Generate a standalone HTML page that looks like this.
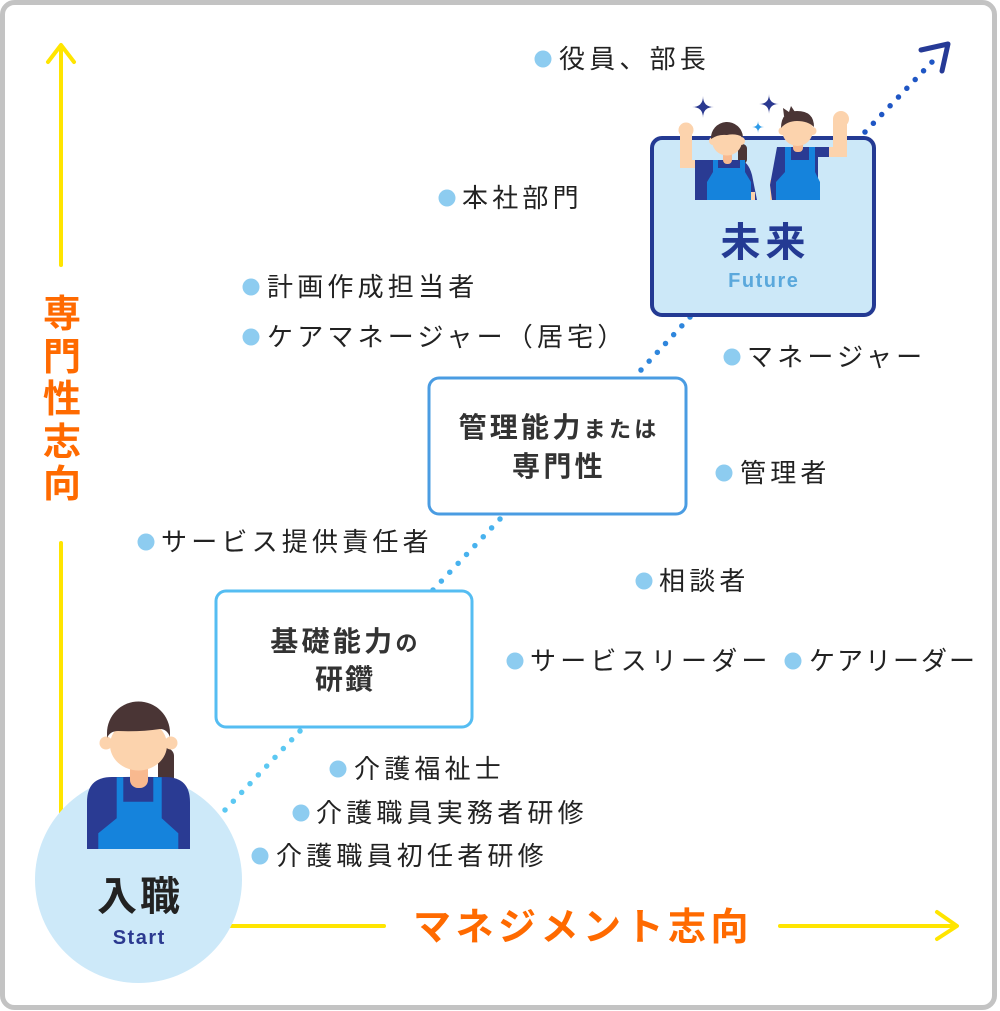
<!DOCTYPE html>
<html>
<head>
<meta charset="utf-8">
<style>
  html,body{margin:0;padding:0;background:#fff;}
  #c{position:relative;width:1000px;height:1011px;overflow:hidden;background:#fff;
     font-family:"Liberation Sans","Noto Sans CJK JP",sans-serif;}
  svg{position:absolute;left:0;top:0;}
  .t{position:absolute;font-size:26px;line-height:30px;letter-spacing:4.2px;color:#222;white-space:nowrap;
     font-family:"Liberation Sans","Noto Sans CJK JP",sans-serif;}
  .b{position:absolute;font-weight:bold;color:#333;white-space:nowrap;text-align:center;
     font-family:"Liberation Sans","Noto Sans CJK JP",sans-serif;}
</style>
</head>
<body>
<div id="c">
<svg width="1000" height="1011" viewBox="0 0 1000 1011">
  <!-- frame -->
  <rect x="2.5" y="2.5" width="992" height="1005" rx="12" fill="#fff" stroke="#c3c3c3" stroke-width="5"/>

  <!-- yellow axes -->
  <g stroke="#ffe500" stroke-width="4" fill="none" stroke-linecap="round" stroke-linejoin="round">
    <line x1="61" y1="46" x2="61" y2="265"/>
    <polyline points="48,62 61,45 74,62"/>
    <line x1="61" y1="543" x2="61" y2="840"/>
    <line x1="180" y1="926" x2="384" y2="926"/>
    <line x1="780" y1="926" x2="956" y2="926"/>
    <polyline points="937,912 957,926 937,939"/>
  </g>

  <!-- dotted connectors -->
  <g fill="none" stroke-linecap="round" stroke-width="5.5">
    <line x1="300" y1="731" x2="225" y2="810" stroke="#5cc8f2" stroke-dasharray="0 12.1"/>
    <line x1="500" y1="519" x2="433" y2="590" stroke="#48b2ee" stroke-dasharray="0 12.2"/>
    <line x1="690" y1="317" x2="641" y2="370" stroke="#2f86dc" stroke-dasharray="0 12.03"/>
    <line x1="865" y1="132" x2="932" y2="62" stroke="#1f56c4" stroke-dasharray="0 12.1"/>
  </g>
  <polyline points="921,50 948,44 942,71" fill="none" stroke="#263a96" stroke-width="5" stroke-linecap="round" stroke-linejoin="round"/>

  <!-- boxes -->
  <rect x="216" y="591" width="256" height="136" rx="10" fill="#fff" stroke="#55bdf2" stroke-width="3"/>
  <rect x="429" y="378" width="257" height="136" rx="10" fill="#fff" stroke="#4a9ce2" stroke-width="3"/>
  <rect x="652" y="138" width="222" height="177" rx="10" fill="#cce8f8" stroke="#243a93" stroke-width="4"/>

  <!-- start circle -->
  <circle cx="138.5" cy="879.5" r="103.5" fill="#cde9f9"/>

  <!-- start woman figure -->
  <rect x="158" y="748" width="16" height="39" rx="8" fill="#4a3535"/>
  <path d="M87,849 L87,802 Q87,777 112,777 L165,777 Q190,777 190,802 L190,849 Z" fill="#2a3b93"/>
  <polygon points="116.7,777.3 123.3,777.3 123.3,801.7 153.3,801.7 153.3,777.3 161.7,777.3 161.7,818.3 178.3,833.3 178.3,849 98.3,849 98.3,833.3 116.7,818.3" fill="#1583dc"/>
  <rect x="130" y="762" width="18" height="26" rx="8" fill="#f8b98f"/>
  <circle cx="106" cy="743" r="6.5" fill="#fcd3ad"/>
  <circle cx="171" cy="743" r="6.5" fill="#fcd3ad"/>
  <ellipse cx="138.5" cy="745" rx="28.5" ry="25.5" fill="#fcd3ad"/>
  <path d="M107,738 L107,733 A31.5,31.5 0 0 1 170,733 L170,737 Q167,729 160,729 Q140,732 118,731 Q110,731 107,738 Z" fill="#4a3535"/>

  <!-- sparkles -->
  <path d="M703,96 Q703,107 714,107 Q703,107 703,118 Q703,107 692,107 Q703,107 703,96 Z" fill="#2b3990"/>
  <path d="M769,94 Q769,104 779,104 Q769,104 769,114 Q769,104 759,104 Q769,104 769,94 Z" fill="#2b3990"/>
  <path d="M758,121 Q758,127 764,127 Q758,127 758,133 Q758,127 752,127 Q758,127 758,121 Z" fill="#2d9be8"/>

  <!-- future woman -->
  <rect x="738" y="144" width="9" height="20" rx="4.5" fill="#4a3535"/>
  <rect x="680" y="130" width="12" height="38" fill="#fcd3ad"/>
  <rect x="680" y="160" width="18" height="8" fill="#fcd3ad"/>
  <circle cx="686" cy="130" r="7.5" fill="#fcd3ad"/>
  <path d="M695,160 L738,160 Q748,160 752,175 L757,200 L695,200 Z" fill="#2a3b93"/>
  <rect x="750" y="192" width="5" height="8" fill="#fcd3ad"/>
  <polygon points="713,160 718,160 718,168 740,168 740,160 745,160 745,172 751,182 751,200 707,200 707,182 713,172" fill="#1583dc"/>
  <rect x="723" y="152" width="9" height="12" rx="4" fill="#f8b98f"/>
  <circle cx="713" cy="141" r="4" fill="#fcd3ad"/>
  <circle cx="741" cy="141" r="4" fill="#fcd3ad"/>
  <ellipse cx="727" cy="141" rx="15" ry="14.5" fill="#fcd3ad"/>
  <path d="M711,139 A16,16 0 0 1 743,137 Q735,133 727,135 Q718,134 711,139 Z" fill="#4a3535"/>

  <!-- future man -->
  <rect x="770" y="180" width="6" height="20" fill="#fcd3ad"/>
  <path d="M777,147 L830,147 L830,157 L818,157 L818,200 L772,200 L770,185 Z" fill="#2a3b93"/>
  <polygon points="785,147 791,147 791,160 809,160 809,147 815,147 815,172 820,182 820,200 776,200 776,182 785,172" fill="#1583dc"/>
  <rect x="829" y="147" width="18" height="10" fill="#fcd3ad"/>
  <rect x="833" y="119" width="14" height="38" fill="#fcd3ad"/>
  <circle cx="841" cy="119" r="8" fill="#fcd3ad"/>
  <rect x="793" y="140" width="10" height="12" rx="4" fill="#f8b98f"/>
  <circle cx="782.5" cy="131" r="4" fill="#fcd3ad"/>
  <circle cx="812.5" cy="131" r="4" fill="#fcd3ad"/>
  <ellipse cx="797.5" cy="130" rx="15.5" ry="16" fill="#fcd3ad"/>
  <path d="M781,128 Q781,111 797,111 Q814,111 814,127 Q808,121 797,121 Q787,121 781,128 Z" fill="#4a3535"/>
  <polygon points="784,116 783,108 789,112 791,106 795,112 800,113 792,119" fill="#4a3535"/>

  <!-- bullets -->
  <g fill="#8dccf0">
    <circle cx="543" cy="59" r="8.5"/>
    <circle cx="447" cy="198" r="8.5"/>
    <circle cx="251" cy="287" r="8.5"/>
    <circle cx="251" cy="337" r="8.5"/>
    <circle cx="732" cy="357" r="8.5"/>
    <circle cx="724" cy="473" r="8.5"/>
    <circle cx="644" cy="581" r="8.5"/>
    <circle cx="515" cy="661" r="8.5"/>
    <circle cx="793" cy="661" r="8.5"/>
    <circle cx="146" cy="542" r="8.5"/>
    <circle cx="338" cy="769" r="8.5"/>
    <circle cx="301" cy="813" r="8.5"/>
    <circle cx="260" cy="856" r="8.5"/>
  </g>
</svg>

<!-- labels -->
<div class="t" style="left:559px;top:44px;">役員、部長</div>
<div class="t" style="left:462px;top:183px;">本社部門</div>
<div class="t" style="left:267px;top:272px;">計画作成担当者</div>
<div class="t" style="left:267px;top:322px;">ケアマネージャー（居宅）</div>
<div class="t" style="left:747px;top:342px;">マネージャー</div>
<div class="t" style="left:740px;top:458px;">管理者</div>
<div class="t" style="left:659px;top:566px;">相談者</div>
<div class="t" style="left:530px;top:646px;">サービスリーダー</div>
<div class="t" style="left:809px;top:646px;letter-spacing:2px;">ケアリーダー</div>
<div class="t" style="left:161px;top:527px;">サービス提供責任者</div>
<div class="t" style="left:354px;top:754px;">介護福祉士</div>
<div class="t" style="left:316px;top:798px;">介護職員実務者研修</div>
<div class="t" style="left:276px;top:841px;">介護職員初任者研修</div>

<!-- box texts -->
<div class="b" style="left:429px;width:257px;top:411px;line-height:34px;font-size:28px;letter-spacing:3.3px;padding-left:3px;box-sizing:border-box;">管理能力<span style="font-size:22px;">または</span></div>
<div class="b" style="left:429px;width:257px;top:450px;line-height:34px;font-size:28px;letter-spacing:3.3px;padding-left:3px;box-sizing:border-box;">専門性</div>
<div class="b" style="left:216px;width:256px;top:625px;line-height:34px;font-size:28px;letter-spacing:3.3px;padding-left:3px;box-sizing:border-box;">基礎能力<span style="font-size:22px;">の</span></div>
<div class="b" style="left:216px;width:256px;top:663px;line-height:34px;font-size:28px;letter-spacing:2px;padding-left:2px;box-sizing:border-box;">研鑽</div>

<!-- future label -->
<div class="b" style="left:652px;width:222px;top:220px;line-height:46px;font-size:40px;letter-spacing:5px;padding-left:5px;box-sizing:border-box;color:#243a93;">未来</div>
<div class="b" style="left:652px;width:222px;top:268px;line-height:26px;font-size:20px;letter-spacing:1.5px;padding-left:1.5px;box-sizing:border-box;color:#5aa8dc;">Future</div>

<!-- start label -->
<div class="b" style="left:35px;width:207px;top:874px;line-height:46px;font-size:40px;letter-spacing:3px;padding-left:3px;box-sizing:border-box;color:#222;">入職</div>
<div class="b" style="left:35px;width:207px;top:925px;line-height:26px;font-size:20px;letter-spacing:1.5px;padding-left:1.5px;box-sizing:border-box;color:#2b3990;">Start</div>

<!-- axis labels -->
<div class="b" style="left:41px;width:42px;top:294px;line-height:42.5px;font-size:38px;color:#ff6a00;">専<br>門<br>性<br>志<br>向</div>
<div class="b" style="left:413px;top:905px;line-height:46px;font-size:38px;letter-spacing:4.5px;color:#ff6a00;text-align:left;">マネジメント志向</div>
</div>
</body>
</html>
